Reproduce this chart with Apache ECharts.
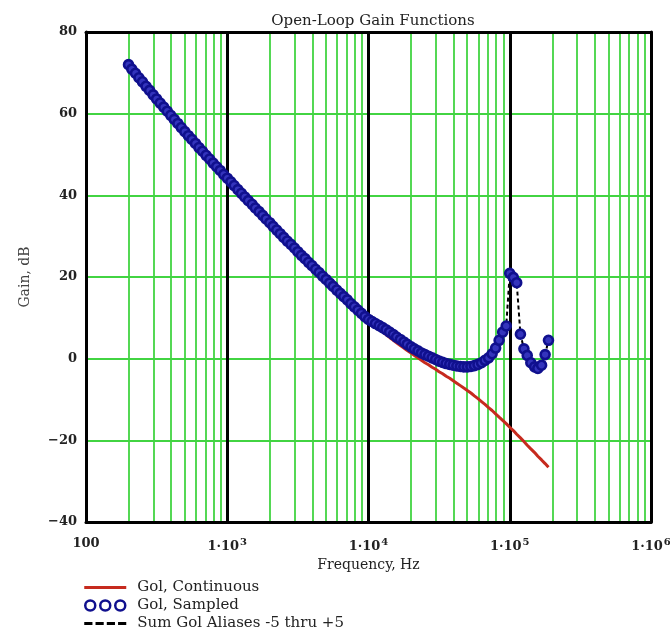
<!DOCTYPE html>
<html><head><meta charset="utf-8">
<script src="https://cdn.jsdelivr.net/npm/echarts@6/dist/echarts.min.js"></script>
<style>html,body{margin:0;padding:0;background:#fff}#c{width:670px;height:636px}</style>
</head><body><div id="c"></div>
<script>
// Frequencies (Hz), log-spaced
const freqHz = [200,211,224,237,251,266,282,299,316,335,355,376,398,422,447,473,501,531,562,596,631,668,708,750,794,841,891,944,
1000,1060,1120,1190,1260,1330,1410,1500,1580,1680,1780,1880,2000,2110,2240,2370,2510,2660,2820,2990,3160,3350,3550,3760,3980,4220,4470,4730,5010,5310,5620,5960,6310,6680,7080,7500,7940,8410,8910,9440,
10000,10600,11200,11900,12600,13300,14100,15000,15800,16800,17800,18800,20000,21100,22400,23700,25100,26600,28200,29900,31600,33500,35500,37600,39800,42200,44700,47300,50100,53100,56200,59600,63100,66800,70800,75000,79400,84100,89100,94400,
100000,106000,112000,119000,126000,133000,141000,150000,158000,168000,178000,188000];

// Gol, Continuous (dB)
const gainContinuousDb = [72.0,70.9,69.9,68.8,67.8,66.7,65.7,64.6,63.6,62.6,61.6,60.6,59.6,58.6,57.6,56.6,55.6,54.6,53.7,52.7,51.7,50.8,49.8,48.9,47.9,47.0,46.1,45.1,
44.2,43.3,42.4,41.4,40.5,39.6,38.7,37.8,36.9,36.0,35.1,34.2,33.3,32.4,31.5,30.6,29.7,28.8,28.0,27.1,26.2,25.3,24.5,23.6,22.8,21.9,21.1,20.2,19.4,18.5,17.7,16.8,16.0,15.2,14.4,13.5,12.7,11.9,11.1,10.3,
9.5,8.7,8.0,7.3,6.6,5.9,5.2,4.5,3.9,3.2,2.6,2.0,1.4,0.8,0.2,-0.4,-1.0,-1.5,-2.1,-2.6,-3.2,-3.7,-4.3,-4.8,-5.4,-6.0,-6.6,-7.2,-7.8,-8.4,-9.1,-9.8,-10.5,-11.2,-12.0,-12.7,-13.5,-14.3,-15.1,-15.9,
-16.8,-17.6,-18.5,-19.4,-20.3,-21.2,-22.1,-23.0,-23.9,-24.8,-25.7,-26.6];

// Gol, Sampled (dB)
const gainSampledDb = [72.0,70.9,69.9,68.8,67.8,66.7,65.7,64.6,63.6,62.6,61.6,60.6,59.6,58.6,57.6,56.6,55.6,54.6,53.7,52.7,51.7,50.8,49.8,48.9,47.9,47.0,46.1,45.1,
44.2,43.3,42.4,41.4,40.5,39.6,38.7,37.8,36.9,36.0,35.1,34.2,33.3,32.4,31.5,30.6,29.7,28.8,28.0,27.1,26.2,25.3,24.5,23.6,22.8,21.9,21.1,20.2,19.4,18.5,17.7,16.8,16.0,15.2,14.4,13.5,12.7,11.9,11.1,10.3,
9.6,9.1,8.6,8.1,7.6,7.1,6.5,5.9,5.3,4.7,4.1,3.5,2.9,2.4,1.9,1.4,1.0,0.6,0.2,-0.2,-0.6,-0.9,-1.2,-1.4,-1.6,-1.8,-1.9,-2.0,-2.0,-1.9,-1.7,-1.4,-1.0,-0.4,0.2,1.2,2.6,4.5,6.5,8.0,
20.9,19.9,18.6,6.0,2.4,0.8,-1.0,-2.0,-2.4,-1.6,1.0,4.5];

// Sum Gol Aliases -5 thru +5 (dB) — coincides with the sampled response
const gainAliasSumDb = gainSampledDb.slice();

const xDecades = [100, 1000, 10000, 100000, 1000000];
const xMinorMult = [2, 3, 4, 5, 6, 7, 8, 9];
const yTicks = [-40, -20, 0, 20, 40, 60, 80];
const seriesNames = ['Gol, Continuous', 'Gol, Sampled', 'Sum Gol Aliases -5 thru +5'];

const SERIF = '"DejaVu Serif","Liberation Serif",serif';
const GREEN = '#42d442';
const RED = '#c62a1e';
const BLUE = '#10108e';

const pairs = g => freqHz.map((f, i) => [f, g[i]]);

const gridLines = [];
xDecades.slice(0, -1).forEach(d => xMinorMult.forEach(m => gridLines.push({ xAxis: d * m })));
yTicks.slice(1, -1).forEach(v => gridLines.push({ yAxis: v }));

const chart = echarts.init(document.getElementById('c'), null, { renderer: 'canvas' });
chart.setOption({
  animation: false,
  backgroundColor: '#fff',
  title: {
    text: 'Open-Loop Gain Functions', left: 368, top: 9, textAlign: 'center',
    textStyle: { fontFamily: SERIF, fontSize: 15, fontWeight: 'normal', color: '#222' }
  },
  grid: { left: 86, right: 19, top: 32, bottom: 114, outerBoundsMode: 'none', containLabel: false },
  legend: {
    orient: 'vertical', left: 84, top: 580, padding: 0, itemWidth: 42, itemHeight: 10, itemGap: 3,
    height: 56,
    textStyle: { fontFamily: SERIF, fontSize: 15, lineHeight: 15, color: '#222', padding: [0, 0, 0, 6] },
    data: [
      { name: seriesNames[0], icon: 'path://M0,0h42v3h-42z' },
      { name: seriesNames[1], icon: 'path://M0,5a5,5 0 1,0 10,0a5,5 0 1,0 -10,0M15,5a5,5 0 1,0 10,0a5,5 0 1,0 -10,0M30,5a5,5 0 1,0 10,0a5,5 0 1,0 -10,0',
        itemStyle: { color: '#ffffff', borderColor: BLUE, borderWidth: 2.5 } },
      { name: seriesNames[2], icon: 'path://M0,0h8v3h-8zM11,0h8v3h-8zM22,0h8v3h-8zM33,0h8v3h-8z' }
    ]
  },
  xAxis: [{
    type: 'log', logBase: 10, min: 100, max: 1e6, position: 'bottom', z: 2,
    axisLine: { show: true, onZero: false, lineStyle: { color: '#000', width: 3 } },
    axisTick: { show: false },
    splitLine: { show: true, lineStyle: { color: '#000', width: 3 } },
    axisLabel: {
      margin: 15, color: '#222', fontFamily: SERIF, fontSize: 13, fontWeight: 'bold',
      showMinLabel: true, showMaxLabel: true, hideOverlap: false,
      formatter: v => v === 100 ? '100' : '1·10{sup|' + Math.round(Math.log10(v)) + '}',
      rich: { sup: { fontSize: 10, fontWeight: 'bold', fontFamily: SERIF, color: '#222', verticalAlign: 'top', padding: [0, 0, 9, 1] } }
    },
    name: 'Frequency, Hz', nameLocation: 'middle', nameGap: 34,
    nameTextStyle: { fontFamily: SERIF, fontSize: 14, color: '#222' }
  }, {
    type: 'log', logBase: 10, min: 100, max: 1e6, position: 'top', z: 2,
    axisLine: { show: true, onZero: false, lineStyle: { color: '#000', width: 3 } },
    axisTick: { show: false }, axisLabel: { show: false }, splitLine: { show: false }
  }],
  yAxis: [{
    type: 'value', min: -40, max: 80, interval: 20, z: 2,
    axisLine: { show: true, onZero: false, lineStyle: { color: '#000', width: 3 } },
    axisTick: { show: false }, splitLine: { show: false },
    axisLabel: {
      margin: 9, color: '#222', fontFamily: SERIF, fontSize: 13, fontWeight: 'bold',
      formatter: v => v < 0 ? '\u2212' + (-v) : String(v)
    },
    name: 'Gain, dB', nameLocation: 'middle', nameGap: 54, nameRotate: 90,
    nameTextStyle: { fontFamily: SERIF, fontSize: 14, color: '#444' }
  }, {
    type: 'value', min: -40, max: 80, interval: 20, position: 'right', z: 2,
    axisLine: { show: true, onZero: false, lineStyle: { color: '#000', width: 3 } },
    axisTick: { show: false }, axisLabel: { show: false }, splitLine: { show: false }
  }],
  series: [{
    name: 'gridlines', type: 'line', data: [], z: 1, silent: true,
    markLine: {
      z: 1, silent: true, symbol: ['none', 'none'], animation: false,
      label: { show: false },
      lineStyle: { color: GREEN, width: 1.8, type: 'solid' },
      emphasis: { disabled: true },
      data: gridLines
    }
  }, {
    name: seriesNames[0], type: 'line', data: pairs(gainContinuousDb), z: 3,
    symbol: 'none', color: RED, lineStyle: { color: RED, width: 3 }
  }, {
    name: seriesNames[2], type: 'line', data: pairs(gainAliasSumDb), z: 4,
    symbol: 'none', color: '#000', lineStyle: { color: '#000', width: 2, type: [4, 3] }
  }, {
    name: seriesNames[1], type: 'scatter', data: pairs(gainSampledDb), z: 5,
    symbol: 'circle', symbolSize: 9,
    itemStyle: { color: '#3434bc', borderColor: BLUE, borderWidth: 2.6, opacity: 1 }
  }]
});
</script></body></html>
